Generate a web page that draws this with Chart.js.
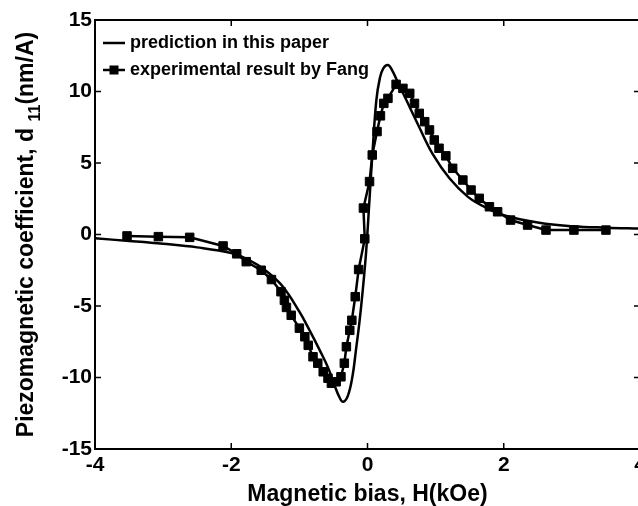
<!DOCTYPE html>
<html>
<head>
<meta charset="utf-8">
<script src="https://cdn.jsdelivr.net/npm/chart.js@4.4.1/dist/chart.umd.min.js"></script>
<style>
  html, body { margin: 0; padding: 0; background: #fff; overflow: hidden; }
  canvas { display: block; }
</style>
</head>
<body>
<canvas id="piezoChart" width="642" height="506"></canvas>
<script>
// ---- model curve: d11 vs bias field ----
const predH = [-4.0, -3.5, -3.0, -2.5, -2.0, -1.75, -1.5, -1.25, -1.0, -0.85, -0.7, -0.58, -0.48, -0.41, -0.36, -0.29, -0.22, -0.17, -0.12, -0.07, -0.02, 0.03, 0.08, 0.13, 0.18, 0.23, 0.30, 0.36, 0.45, 0.57, 0.76, 0.96, 1.2, 1.47, 1.71, 2.0, 2.52, 3.01, 3.5, 4.0];
const predD = [-0.27, -0.45, -0.65, -0.9, -1.3, -1.75, -2.5, -3.6, -5.4, -6.7, -8.1, -9.3, -10.6, -11.4, -11.7, -11.3, -9.9, -8.1, -6.2, -3.9, -1.2, 2.5, 6.2, 9.4, 10.9, 11.6, 11.85, 11.5, 10.6, 9.4, 7.5, 5.6, 3.95, 2.65, 1.95, 1.35, 0.82, 0.58, 0.48, 0.42];

// ---- measured points (Fang) ----
const expH = [-3.53, -3.07, -2.61, -2.12, -1.92, -1.78, -1.56, -1.41, -1.27, -1.22, -1.19, -1.12, -1.0, -0.92, -0.87, -0.80, -0.73, -0.65, -0.58, -0.53, -0.46, -0.39, -0.34, -0.31, -0.26, -0.23, -0.18, -0.13, -0.04, -0.06, 0.03, 0.07, 0.14, 0.19, 0.24, 0.30, 0.42, 0.52, 0.62, 0.69, 0.76, 0.84, 0.91, 0.98, 1.05, 1.15, 1.25, 1.40, 1.52, 1.64, 1.79, 1.91, 2.10, 2.35, 2.62, 3.03, 3.50];
const expD = [-0.1, -0.15, -0.2, -0.8, -1.35, -1.90, -2.50, -3.15, -4.00, -4.60, -5.10, -5.65, -6.55, -7.15, -7.75, -8.55, -9.00, -9.60, -10.05, -10.40, -10.30, -9.95, -9.00, -7.85, -6.70, -6.00, -4.35, -2.45, -0.30, 1.85, 3.70, 5.56, 7.20, 8.30, 9.17, 9.52, 10.50, 10.22, 9.87, 9.17, 8.47, 7.89, 7.31, 6.61, 6.03, 5.50, 4.63, 3.81, 3.11, 2.53, 1.94, 1.59, 1.01, 0.66, 0.31, 0.31, 0.31];

const xTicks = [-4, -2, 0, 2, 4];
const yTicks = [-15, -10, -5, 0, 5, 10, 15];

const seriesNames = ["prediction in this paper", "experimental result by Fang"];
const xTitle = "Magnetic bias, H(kOe)";
const yTitleMain = "Piezomagnetic coefficient, d ";
const yTitleSub = "11";
const yTitleTail = "(nm/A)";

const FONT = '"Liberation Sans", Arial, Helvetica, sans-serif';

function toPoints(xs, ys) {
  return xs.map((x, i) => ({ x: x, y: ys[i] }));
}

// box, inward ticks, tick labels, axis titles and the in-plot legend
const framePlugin = {
  id: "frame",
  afterDraw(chart) {
    const { ctx, chartArea: a, scales } = chart;
    ctx.save();
    ctx.strokeStyle = "#000";
    ctx.fillStyle = "#000";
    ctx.lineWidth = 2;
    ctx.strokeRect(a.left, a.top, a.right - a.left, a.bottom - a.top);

    const len = 6;
    ctx.lineWidth = 1.5;
    ctx.beginPath();
    xTicks.forEach(v => {
      const px = scales.x.getPixelForValue(v);
      ctx.moveTo(px, a.bottom); ctx.lineTo(px, a.bottom - len);
      ctx.moveTo(px, a.top); ctx.lineTo(px, a.top + len);
    });
    yTicks.forEach(v => {
      const py = scales.y.getPixelForValue(v);
      ctx.moveTo(a.left, py); ctx.lineTo(a.left + len, py);
      ctx.moveTo(a.right, py); ctx.lineTo(a.right - len, py);
    });
    ctx.stroke();

    // tick labels
    ctx.font = "bold 21px " + FONT;
    ctx.textBaseline = "middle";
    ctx.textAlign = "center";
    xTicks.forEach(v => {
      ctx.fillText(String(v), scales.x.getPixelForValue(v), a.bottom + 16);
    });
    ctx.textAlign = "right";
    yTicks.forEach(v => {
      ctx.fillText(String(v), a.left - 3, scales.y.getPixelForValue(v));
    });

    // x title
    ctx.font = "bold 23px " + FONT;
    ctx.textAlign = "center";
    ctx.textBaseline = "alphabetic";
    ctx.fillText(xTitle, (a.left + a.right) / 2, a.bottom + 52);

    // y title with subscript
    ctx.save();
    ctx.translate(33, (a.top + a.bottom) / 2);
    ctx.rotate(-Math.PI / 2);
    ctx.textAlign = "left";
    const big = "bold 23px " + FONT, small = "bold 16px " + FONT;
    ctx.font = big;
    const w1 = ctx.measureText(yTitleMain).width;
    const w3 = ctx.measureText(yTitleTail).width;
    ctx.font = small;
    const w2 = ctx.measureText(yTitleSub).width;
    const x0 = -(w1 + w2 + w3) / 2;
    ctx.font = big;
    ctx.fillText(yTitleMain, x0, 0);
    ctx.font = small;
    ctx.fillText(yTitleSub, x0 + w1, 7);
    ctx.font = big;
    ctx.fillText(yTitleTail, x0 + w1 + w2, 0);
    ctx.restore();

    // legend
    ctx.font = "bold 18px " + FONT;
    ctx.textAlign = "left";
    ctx.textBaseline = "middle";
    const lx = a.left + 8, tx = a.left + 35;
    const rows = [a.top + 23, a.top + 50];
    ctx.lineWidth = 2.5;
    rows.forEach((ry, i) => {
      ctx.beginPath();
      ctx.moveTo(lx, ry); ctx.lineTo(lx + 22, ry);
      ctx.stroke();
      if (i === 1) ctx.fillRect(lx + 11 - 4.5, ry - 4.5, 9, 9);
      ctx.fillText(seriesNames[i], tx, ry);
    });
    ctx.restore();
  }
};

new Chart(document.getElementById("piezoChart"), {
  type: "line",
  data: {
    datasets: [
      {
        label: seriesNames[0],
        data: toPoints(predH, predD),
        borderColor: "#000",
        borderWidth: 2.5,
        pointRadius: 0,
        tension: 0.4,
        fill: false
      },
      {
        label: seriesNames[1],
        data: toPoints(expH, expD),
        borderColor: "#000",
        borderWidth: 2.5,
        pointStyle: "rect",
        pointRadius: 6,
        pointBackgroundColor: "#000",
        pointBorderColor: "#000",
        pointBorderWidth: 1,
        tension: 0,
        fill: false
      }
    ]
  },
  options: {
    responsive: false,
    devicePixelRatio: 1,
    animation: false,
    layout: { autoPadding: false, padding: { top: 20, right: 2, left: 95, bottom: 57 } },
    plugins: { legend: { display: false }, tooltip: { enabled: false } },
    scales: {
      x: { type: "linear", min: -4, max: 4, display: false },
      y: { type: "linear", min: -15, max: 15, display: false }
    }
  },
  plugins: [framePlugin]
});
</script>
</body>
</html>
